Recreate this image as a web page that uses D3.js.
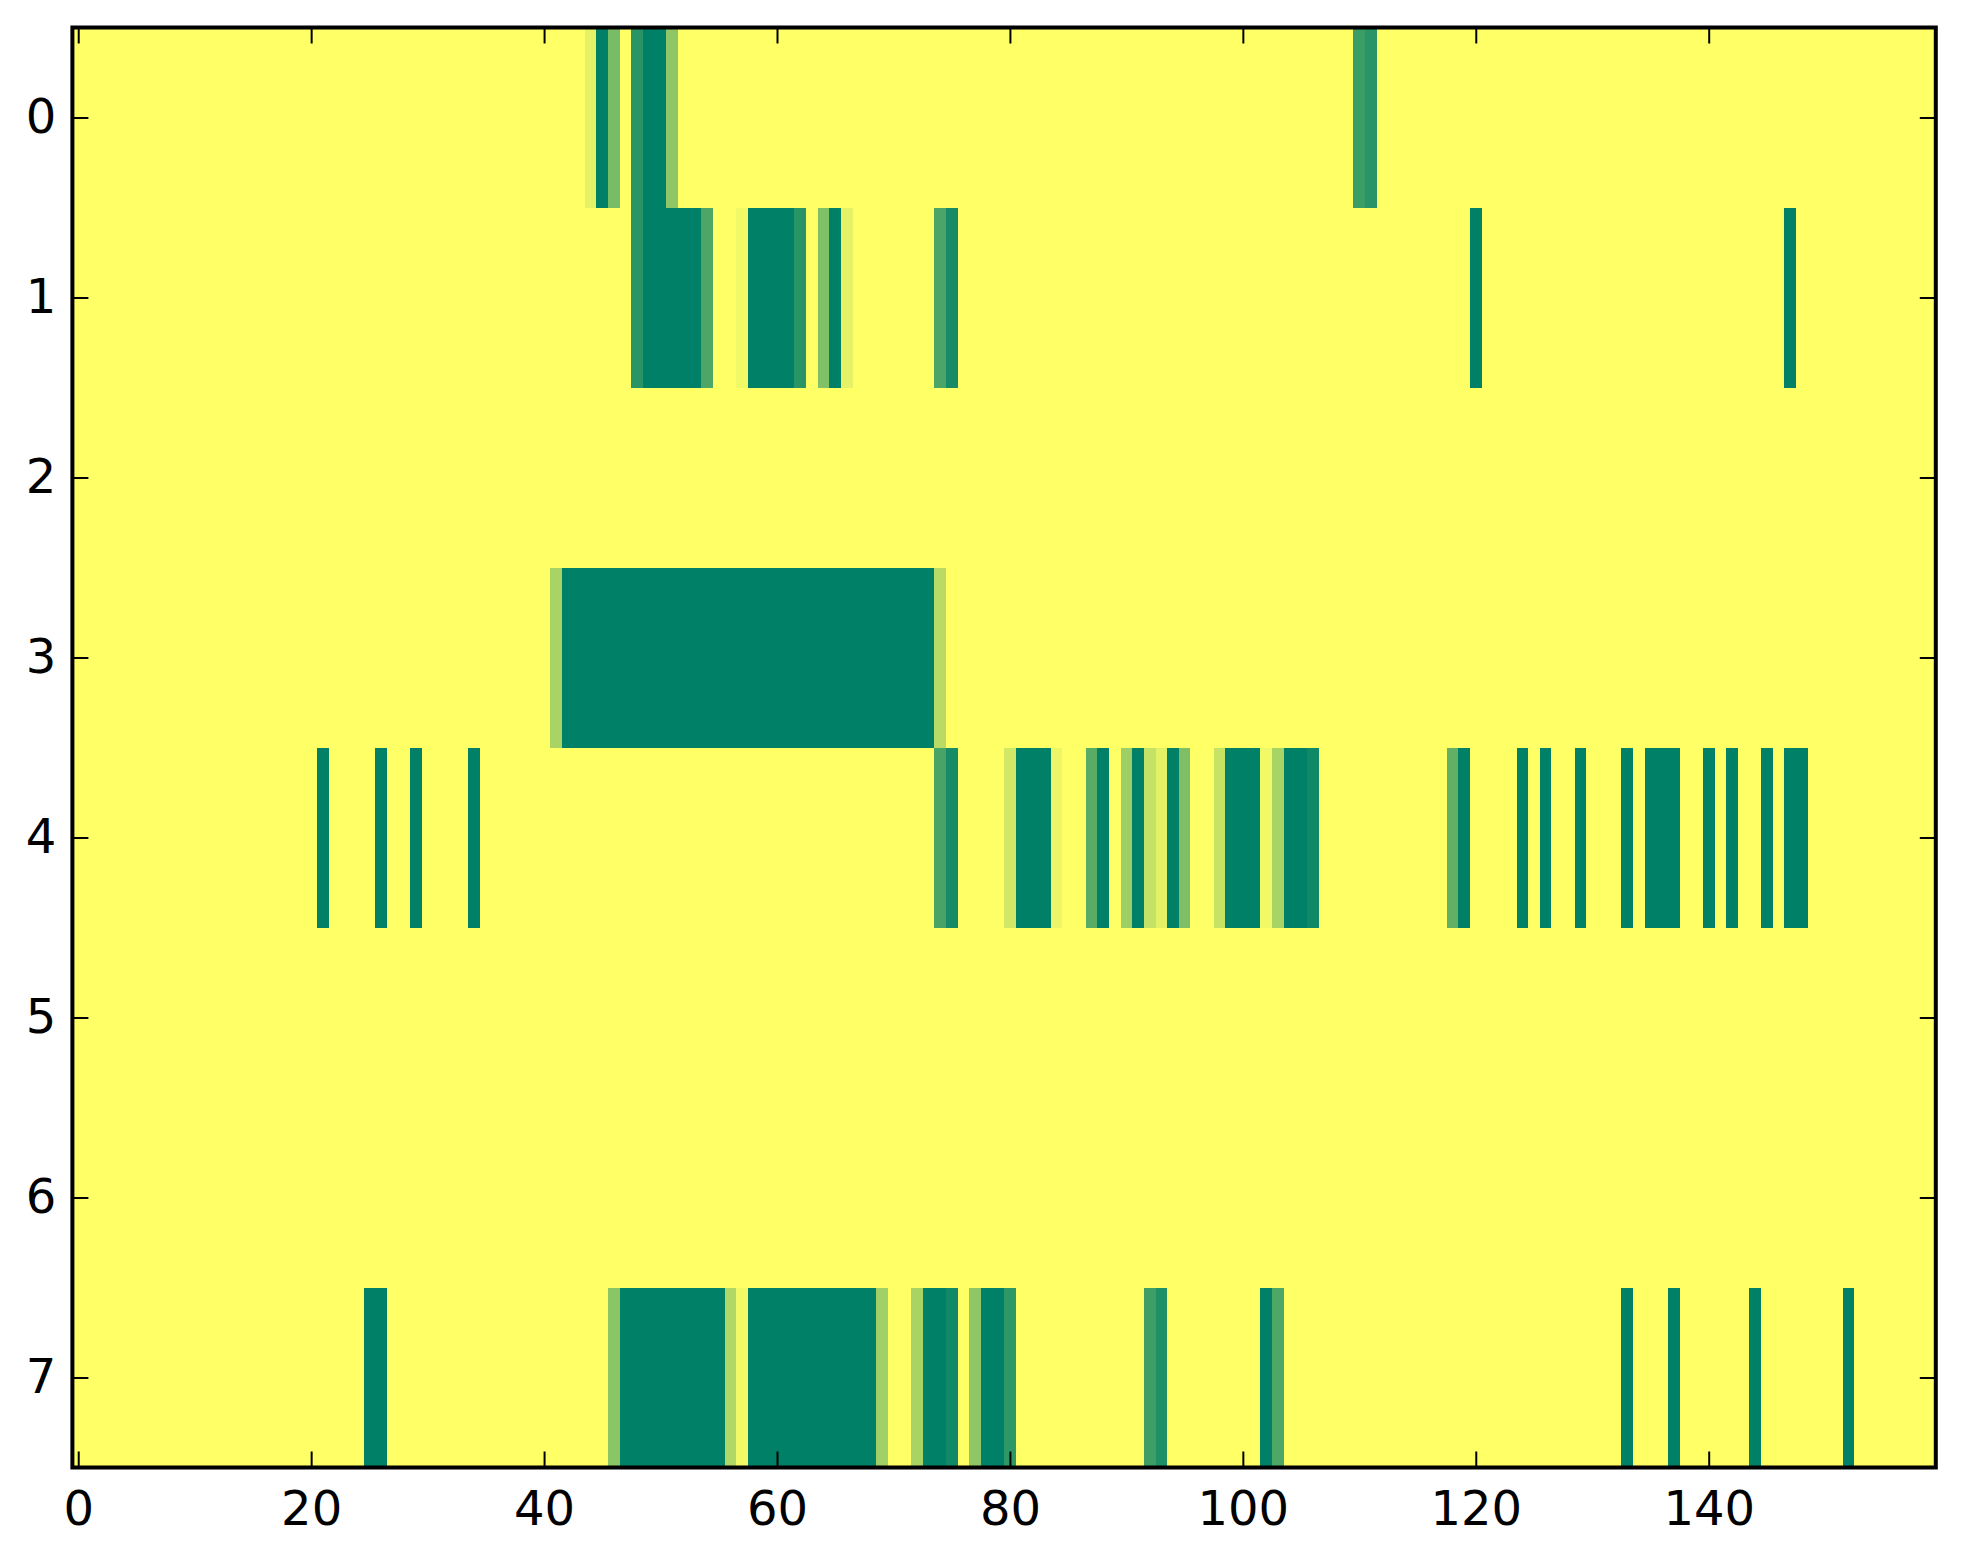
<!DOCTYPE html>
<html>
<head>
<meta charset="utf-8">
<script src="https://cdn.jsdelivr.net/npm/d3@7"></script>
<style>
  body { margin: 0; background: #fff; }
  text { font-family: "DejaVu Sans", sans-serif; }
</style>
</head>
<body>
<div id="chart"></div>
<script>
// Heatmap values: 8 rows x 160 columns, mostly 0.
// Each row lists runs of non-zero cells as [firstCol, lastCol, value]
const nCols = 160;
const rowLabels = [0, 1, 2, 3, 4, 5, 6, 7];
const xTickValues = [0, 20, 40, 60, 80, 100, 120, 140];

const row0 = [[44,44,0.10],[45,45,1],[46,46,0.53],[48,48,0.84],[49,50,1],[51,51,0.44],
    [110,110,0.77],[111,111,0.84]];
const row1 = [[48,48,0.84],[49,53,1],[54,54,0.70],[57,57,0.05],[58,61,1],[62,62,0.84],
    [64,64,0.50],[65,65,1],[66,66,0.10],[74,74,0.71],[75,75,0.91],[120,120,1],[147,147,1]];
const row2 = [];
const row3 = [[41,41,0.34],[42,73,1],[74,74,0.28]];
const row4 = [[21,21,1],[26,26,1],[29,29,1],[34,34,1],[74,74,0.72],[75,75,0.91],
    [80,80,0.18],[81,83,1],[84,84,0.07],[87,87,0.65],[88,88,1],[90,90,0.38],[91,91,1],
    [92,92,0.23],[93,93,0.11],[94,94,1],[95,95,0.51],[98,98,0.22],[99,101,1],[102,102,0.05],
    [103,103,0.34],[104,105,1],[106,106,0.94],[118,118,0.62],[119,119,1],[124,124,1],
    [126,126,1],[129,129,1],[133,133,1],[135,137,1],[140,140,1],[142,142,1],[145,145,1],
    [147,148,1]];
const row5 = [];
const row6 = [];
const row7 = [[25,26,1],[46,46,0.46],[47,55,1],[56,56,0.31],[57,57,0.05],[58,68,1],
    [69,69,0.37],[72,72,0.34],[73,74,1],[75,75,0.93],[77,77,0.44],[78,79,1],[80,80,0.82],
    [92,92,0.76],[93,93,0.88],[102,102,1],[103,103,0.69],[133,133,1],[137,137,1],
    [144,144,1],[152,152,1]];

const rowRuns = [row0, row1, row2, row3, row4, row5, row6, row7];

// expand runs into full cells
const cells = [];
rowRuns.forEach(function (runs, r) {
    const vals = new Array(nCols).fill(0);
    runs.forEach(function (run) {
        for (let c = run[0]; c <= run[1]; c++) vals[c] = run[2];
    });
    vals.forEach(function (v, c) { cells.push({ row: r, col: c, value: v }); });
});

const width = 1963, height = 1564;
const plotLeft = 72.4, plotRight = 1935.8, plotTop = 27.5, plotBottom = 1467.5;

const x = d3.scaleLinear().domain([-0.5, nCols - 0.5]).range([plotLeft, plotRight]);
const y = d3.scaleLinear().domain([-0.5, rowLabels.length - 0.5]).range([plotTop, plotBottom]);

// summer_r colormap: 0 -> yellow, 1 -> green
const color = d3.scaleLinear().domain([0, 1]).range(["#ffff66", "#008066"]);

const svg = d3.select("#chart")
    .append("svg")
    .attr("width", width)
    .attr("height", height);

svg.append("g")
    .attr("shape-rendering", "crispEdges")
    .selectAll("rect")
    .data(cells)
    .enter()
    .append("rect")
    .attr("x", d => x(d.col - 0.5))
    .attr("y", d => y(d.row - 0.5))
    .attr("width", d => x(d.col + 0.5) - x(d.col - 0.5) + 0.5)
    .attr("height", d => y(d.row + 0.5) - y(d.row - 0.5) + 0.5)
    .style("fill", d => color(d.value));

// axes, ticks pointing inward like matplotlib classic
function styleAxis(g, showLabels) {
    g.select(".domain").remove();
    g.selectAll(".tick line").attr("stroke", "#000").attr("stroke-width", 2);
    g.selectAll(".tick text")
        .style("font-size", "48px")
        .attr("fill", "#000")
        .style("display", showLabels ? null : "none");
}

svg.append("g")
    .attr("transform", "translate(0," + plotBottom + ")")
    .call(d3.axisBottom(x).tickValues(xTickValues).tickSizeInner(-16).tickSizeOuter(0).tickPadding(23))
    .call(g => styleAxis(g, true));

svg.append("g")
    .attr("transform", "translate(0," + plotTop + ")")
    .call(d3.axisTop(x).tickValues(xTickValues).tickSizeInner(-16).tickSizeOuter(0))
    .call(g => styleAxis(g, false));

svg.append("g")
    .attr("transform", "translate(" + plotLeft + ",0)")
    .call(d3.axisLeft(y).tickValues(rowLabels).tickSizeInner(-16).tickSizeOuter(0).tickPadding(16))
    .call(g => styleAxis(g, true));

svg.append("g")
    .attr("transform", "translate(" + plotRight + ",0)")
    .call(d3.axisRight(y).tickValues(rowLabels).tickSizeInner(-16).tickSizeOuter(0))
    .call(g => styleAxis(g, false));

// frame
svg.append("rect")
    .attr("x", plotLeft)
    .attr("y", plotTop)
    .attr("width", plotRight - plotLeft)
    .attr("height", plotBottom - plotTop)
    .attr("fill", "none")
    .attr("stroke", "#000")
    .attr("stroke-width", 4);
</script>
</body>
</html>
